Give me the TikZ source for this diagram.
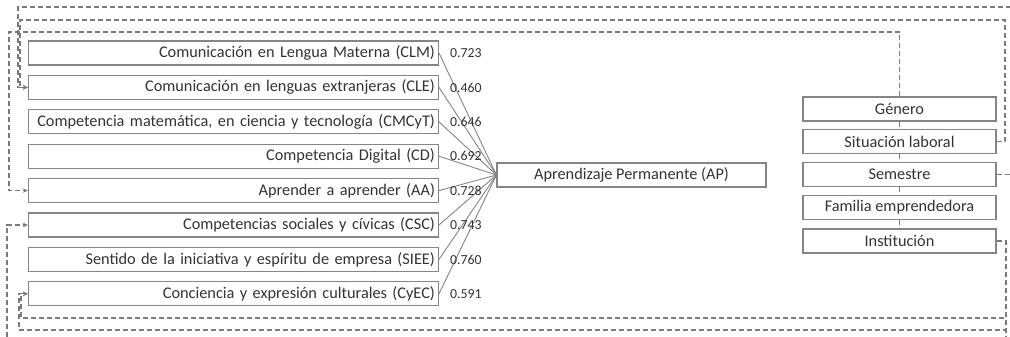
\documentclass[tikz,border=0pt]{standalone}
\usepackage{fontspec}
\setmainfont{Carlito}
\usetikzlibrary{arrows.meta}
\definecolor{ln}{HTML}{858585}
\definecolor{dl}{HTML}{7A7A7A}
\definecolor{tx}{HTML}{333333}
\begin{document}
\begin{tikzpicture}[x=1pt,y=-1pt,
  lbox/.style={draw=ln, line width=1.1pt, fill=white, text=tx, minimum height=24pt, text width=403pt, align=right, inner xsep=3.5pt, inner ysep=0pt, anchor=east, font=\fontsize{16.3}{18}\selectfont},
  rbox/.style={draw=ln, line width=1.1pt, fill=white, text=tx, minimum height=24pt, minimum width=193pt, inner sep=0pt, font=\fontsize{16.3}{18}\selectfont},
  val/.style={text=tx, font=\fontsize{13.8}{16}\selectfont, inner sep=0pt, anchor=west},
  load/.style={draw=ln, line width=0.9pt},
  dsh/.style={draw=dl, line width=1.1pt, dash pattern=on 5pt off 3pt},
  tip/.style={-{Stealth[length=5pt,width=4.5pt]}}
]
\useasboundingbox[fill=white] (0,0) rectangle (1010,337);
% left boxes
\node[lbox] (clm) at (439,53) {Comunicación en Lengua Materna (CLM)};
\node[lbox] (cle) at (439,87.4) {Comunicación en lenguas extranjeras (CLE)};
\node[lbox] (cmc) at (439,121.8) {Competencia matemática, en ciencia y tecnología (CMCyT)};
\node[lbox] (cd) at (439,156.2) {Competencia Digital (CD)};
\node[lbox] (aa) at (439,190.6) {Aprender a aprender (AA)};
\node[lbox] (csc) at (439,225) {Competencias sociales y cívicas (CSC)};
\node[lbox] (siee) at (439,259.4) {Sentido de la iniciativa y espíritu de empresa (SIEE)};
\node[lbox] (cyec) at (439,293.8) {Conciencia y expresión culturales (CyEC)};
% central box
\node[rbox, minimum width=269pt] (ap) at (631.5,175) {Aprendizaje Permanente (AP)};
% right boxes
\node[rbox] (gen) at (899.5,109) {Género};
\node[rbox] (sit) at (899.5,141.5) {Situación laboral};
\node[rbox] (sem) at (899.5,174.5) {Semestre};
\node[rbox] (fam) at (899.5,207.5) {Familia emprendedora};
\node[rbox] (ins) at (899.5,241) {Institución};
% loadings
\foreach \n in {clm,cle,cmc,cd,aa,csc,siee,cyec}{\draw[load] (\n.east) -- (ap.west);}
\node[val] (v1) at (450,53) {0.723};
\node[val] (v2) at (450,87.4) {0.460};
\node[val] (v3) at (450,121.8) {0.646};
\node[val] (v4) at (450,156.2) {0.692};
\node[val] (v5) at (450,190.6) {0.728};
\node[val] (v6) at (450,225) {0.743};
\node[val] (v7) at (450,259.4) {0.760};
\node[val] (v8) at (450,293.8) {0.591};
% dashed links among right boxes
\draw[dsh] (gen.south) -- (sit.north);
\draw[dsh] (sit.south) -- (sem.north);
\draw[dsh] (sem.south) -- (fam.north);
\draw[dsh] (fam.south) -- (ins.north);
% dashed routes
\draw[dsh,tip] (sem.east) -- (1016,174.5) -- (1016,7) -- (18,7) |- (cle.west);
\draw[dsh,tip] (sit.east) -| (1005,20) -- (20,20) |- (cle.west);
\draw[dsh,tip] (gen.north) |- (9,32) |- (aa.west);
\draw[dsh,tip] (ins.east) -| (1006,345) -- (7,345) |- (csc.west);
\draw[dsh,tip] (ins.east) -| (1006,318) -- (21,318) |- (cyec.west);
\draw[dsh,tip] (ins.east) -| (1006,330) -- (19,330) |- (cyec.west);
\end{tikzpicture}
\end{document}
